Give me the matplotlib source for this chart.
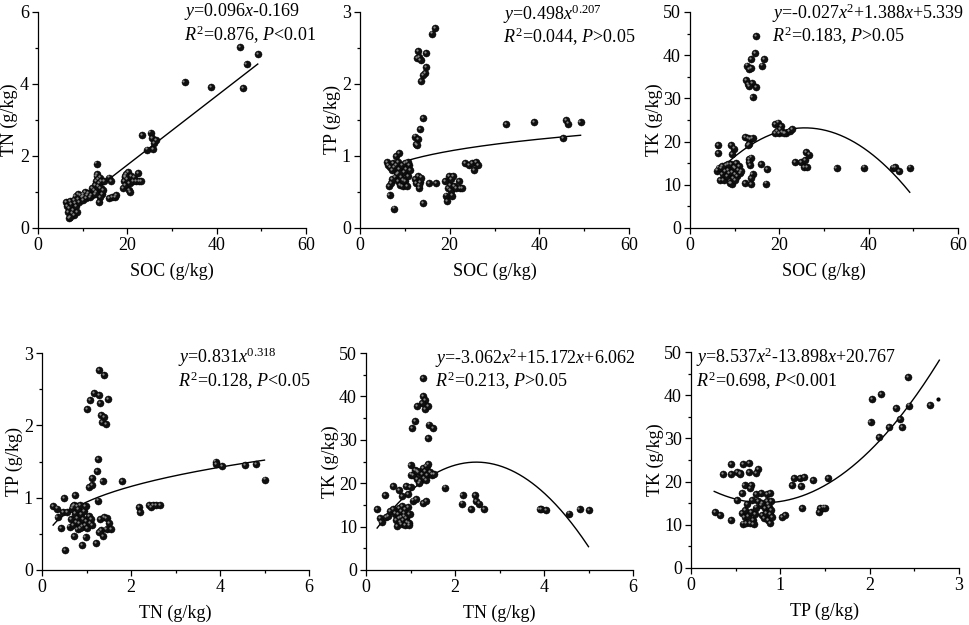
import numpy as np
import matplotlib
matplotlib.use("Agg")
import matplotlib.pyplot as plt
from matplotlib.ticker import MultipleLocator
from matplotlib.transforms import offset_copy

plt.rcParams['font.family'] = ['Liberation Serif', 'DejaVu Serif']
plt.rcParams['mathtext.fontset'] = 'custom'
plt.rcParams['mathtext.rm'] = 'Liberation Serif'
plt.rcParams['mathtext.it'] = 'Liberation Serif:italic'

# panel 1: SOC vs TN
soc_a = [6.3, 6.5, 6.8, 6.9, 7.0, 7.2, 7.5, 7.6, 7.8, 8.0, 8.2, 8.4, 8.5, 8.7, 9.0, 9.2, 9.5, 9.8,
         10.0, 10.2, 10.5, 10.8, 11.0, 11.3, 11.7, 12.0, 9.0, 10.0, 7.2, 8.0,
         12.2, 12.5, 12.7, 13.0, 13.1, 13.3, 13.5, 13.7, 13.0, 13.4, 13.8, 14.0, 14.2, 14.4, 13.8, 13.6,
         14.6, 14.8, 12.8, 13.1,
         16.0, 16.4, 15.9, 16.5, 17.3, 17.4,
         19.0, 19.2, 19.4, 19.6, 19.8, 20.0, 20.2, 20.4, 20.5, 20.6, 20.9, 21.2, 21.5, 22.0, 22.6, 22.4,
         23.0, 19.5,
         23.3, 24.5, 25.2, 25.6, 25.8, 26.0, 26.5, 32.8, 38.8, 45.3, 45.9, 46.7, 49.2]
tn_a = [0.72, 0.62, 0.45, 0.28, 0.55, 0.75, 0.65, 0.40, 0.50, 0.35, 0.70, 0.88, 0.60, 0.45, 0.80, 0.72,
        0.90, 0.85, 0.78, 0.95, 1.00, 0.82, 0.90, 0.98, 0.85, 0.92, 0.95, 0.88, 0.30, 0.78,
        1.10, 1.05, 1.20, 1.30, 1.45, 1.50, 1.35, 1.25, 1.00, 1.15, 1.40, 1.10, 1.30, 0.95, 0.85, 0.72,
        1.05, 1.30, 0.95, 1.79,
        1.40, 1.30, 0.82, 0.85, 0.85, 0.92,
        1.10, 1.30, 1.42, 1.20, 1.50, 1.35, 1.55, 1.05, 1.25, 1.00, 1.45, 1.30, 1.40, 1.30, 1.30, 1.52,
        1.30, 1.45,
        2.57, 2.18, 2.65, 2.50, 2.20, 2.35, 2.45, 4.06, 3.92, 5.02, 3.89, 4.56, 4.82]

# panel 2: SOC vs TP
soc_b = [16.7, 16.1, 12.9, 14.7, 12.8, 13.1, 13.5, 14.7, 14.5, 14.1, 13.6,
         14.0, 13.4, 12.2, 13.0, 12.6, 12.8,
         6.0, 6.3, 6.5, 6.6, 6.8, 7.0, 7.2, 7.3, 7.5, 7.6, 7.8, 8.0, 8.0, 8.2, 8.4, 8.5, 8.8, 8.8,
         9.0, 9.2, 9.4, 9.5, 9.8, 10.0, 10.0, 10.3, 10.5, 10.8, 11.0, 11.2, 9.6, 8.6, 10.6, 7.2,
         12.3, 12.6, 13.0, 13.2, 13.4, 13.6, 13.2, 14.0, 15.5, 17.0,
         19.0, 19.2, 19.5, 19.6, 19.8, 20.0, 20.2, 20.3, 20.5, 20.8, 21.0, 21.4, 22.0, 22.3, 22.8,
         23.5, 24.3, 25.0, 25.5, 25.8, 26.4,
         32.6, 38.8, 45.3, 45.9, 46.5, 49.2]
tp_b = [2.78, 2.70, 2.46, 2.43, 2.36, 2.37, 2.33, 2.24, 2.15, 2.12, 2.04,
        1.53, 1.38, 1.27, 1.24, 1.17, 1.15,
        0.91, 0.88, 0.58, 0.46, 0.85, 0.62, 0.80, 0.90, 0.85, 0.27, 0.70, 1.00, 0.88, 0.75, 0.65, 0.92,
        1.04, 0.82, 0.60, 0.70, 0.88, 0.58, 0.78, 0.65, 0.90, 0.82, 0.58, 0.72, 0.88, 0.80, 0.66, 0.76,
        0.92, 0.68,
        0.68, 0.62, 0.72, 0.55, 0.64, 0.70, 0.60, 0.35, 0.62, 0.62,
        0.65, 0.45, 0.37, 0.55, 0.72, 0.60, 0.52, 0.68, 0.45, 0.72, 0.58, 0.55, 0.65, 0.55, 0.56,
        0.90, 0.88, 0.90, 0.80, 0.91, 0.87,
        1.44, 1.47, 1.25, 1.50, 1.45, 1.47]

# panel 3: SOC vs TK
soc_c = [14.8, 14.6, 16.6, 13.6, 16.2, 12.8, 13.2, 13.6, 12.5, 13.0, 13.8, 14.8, 13.2, 14.0,
         19.0, 19.8, 20.3, 19.4, 19.9, 20.7, 21.4, 22.3, 22.9, 19.1, 20.2, 21.0,
         12.3, 12.9, 13.5, 14.0, 13.3, 13.0,
         6.3, 9.2, 9.8, 6.3, 9.5,
         6.0, 6.4, 6.7, 7.0, 7.3, 7.5, 7.8, 8.0, 8.2, 8.5, 8.8, 9.0, 9.2, 9.5, 9.6, 9.8, 10.0, 10.2,
         10.4, 10.6, 10.8, 11.0, 11.2, 9.3, 8.6, 10.0, 7.2, 11.5,
         13.2, 13.7, 13.3, 13.5, 16.0, 17.3, 14.0, 13.7, 12.3, 13.7, 17.0,
         23.5, 24.8, 25.8, 26.0, 26.6, 25.5, 26.2,
         32.8, 39.0, 45.5, 46.0, 46.8, 49.3]
tk_c = [44.4, 40.4, 39.2, 39.2, 37.6, 37.6, 36.8, 37.0, 34.2, 33.3, 33.5, 32.6, 32.8, 30.3,
        24.0, 24.4, 23.6, 22.4, 22.0, 22.3, 22.0, 22.5, 22.9, 22.0, 23.0, 21.9,
        21.0, 20.8, 20.5, 20.8, 19.4, 19.2,
        19.3, 19.3, 18.4, 17.3, 17.2,
        13.3, 14.0, 11.2, 13.8, 12.5, 11.0, 13.2, 14.5, 12.0, 13.5, 12.8, 10.5, 14.8, 13.0, 11.5, 14.2,
        12.5, 13.8, 15.0, 12.0, 13.5, 14.3, 12.8, 10.3, 14.8, 11.0, 14.3, 13.2,
        16.0, 16.3, 15.2, 14.6, 14.8, 13.7, 12.5, 11.6, 10.5, 10.2, 10.3,
        15.3, 15.3, 15.8, 17.5, 17.0, 14.2, 14.2,
        13.8, 14.0, 14.0, 14.1, 13.1, 14.0]

# panel 4: TN vs TP
tn_d = [1.29, 1.40, 1.16, 1.08, 1.28, 1.30, 1.49, 1.02, 1.32, 1.40, 1.34, 1.43,
        1.25, 1.23, 1.36, 1.80, 1.12, 1.05, 1.13, 1.25,
        0.25, 0.33, 0.35, 0.42, 0.48, 0.50, 0.52, 0.57, 0.62,
        0.66, 0.68, 0.70, 0.72, 0.74, 0.75, 0.76, 0.78, 0.80, 0.80, 0.82, 0.84, 0.86, 0.88, 0.90,
        0.92, 0.94, 0.96, 0.98, 1.00, 1.02, 1.05, 1.08, 1.10, 1.12, 0.73, 0.90, 0.98, 1.22, 0.70, 0.85,
        1.30, 1.40, 1.45, 1.50, 1.32, 1.38, 1.45, 1.55, 1.28,
        2.18, 2.20, 2.40, 2.45, 2.50, 2.56, 2.65,
        3.90, 3.92, 4.05, 4.57, 4.82, 5.02]
tp_d = [2.77, 2.69, 2.45, 2.35, 2.42, 2.31, 2.36, 2.22, 2.14, 2.12, 2.04, 2.02,
        1.53, 1.37, 1.23, 1.23, 1.27, 1.15, 1.17, 0.96,
        0.88, 0.85, 0.73, 0.58, 0.80, 1.00, 0.27, 0.80, 0.60,
        0.70, 0.85, 0.62, 0.90, 0.78, 1.04, 0.66, 0.88, 0.56, 0.72, 0.84, 0.65, 0.90, 0.77, 0.60,
        0.70, 0.82, 0.62, 0.88, 0.68, 0.58, 0.74, 0.65, 0.70, 0.62, 0.47, 0.34, 0.46, 0.37, 0.88, 0.58,
        0.70, 0.73, 0.72, 0.65, 0.55, 0.47, 0.57, 0.57, 0.53,
        0.87, 0.80, 0.90, 0.87, 0.90, 0.90, 0.90,
        1.50, 1.47, 1.44, 1.45, 1.47, 1.25]

# panel 5: TN vs TK
tn_e = [1.28, 1.29, 1.32, 1.25, 1.15, 1.32, 1.40, 1.03, 1.10, 1.42, 1.50, 1.40,
        1.00, 1.02, 1.06, 1.10, 1.15, 1.18, 1.22, 1.25, 1.28, 1.30, 1.33, 1.36, 1.38, 1.40, 1.44,
        1.48, 1.52, 1.20, 1.14, 1.34,
        1.78,
        0.25, 0.32, 0.35, 0.42, 0.45, 0.50, 0.55, 0.60, 0.60,
        0.66, 0.68, 0.70, 0.72, 0.74, 0.76, 0.78, 0.80, 0.80, 0.82, 0.84, 0.86, 0.88, 0.88, 0.90,
        0.92, 0.94, 0.96, 0.98, 0.97, 0.85, 0.75,
        0.75, 0.82, 0.90, 0.95, 1.00, 1.05, 1.12, 1.28, 1.35,
        2.17, 2.15, 2.37, 2.45, 2.48, 2.55, 2.65,
        3.90, 3.93, 4.05, 4.57, 4.80, 5.02]
tk_e = [44.2, 40.0, 39.2, 38.5, 37.7, 37.0, 37.7, 32.8, 34.3, 33.5, 32.8, 30.3,
        24.2, 22.0, 21.8, 23.0, 21.0, 22.5, 20.5, 22.2, 23.5, 21.2, 22.8, 24.0, 21.8, 24.4, 22.5,
        22.0, 22.2, 20.0, 22.8, 20.8,
        19.0,
        14.0, 12.0, 11.0, 17.2, 12.2, 12.5, 13.5, 19.3, 14.0,
        13.0, 11.5, 10.2, 12.8, 14.2, 11.0, 13.5, 10.5, 12.2, 14.8, 11.5, 13.0, 10.3, 14.0, 12.0,
        11.0, 14.5, 10.8, 12.8, 10.4, 12.5, 12.0,
        18.5, 17.0, 19.3, 17.5, 19.2, 16.0, 16.3, 15.5, 15.8,
        17.3, 15.3, 14.0, 17.2, 15.8, 15.3, 14.0,
        14.0, 14.1, 13.8, 13.0, 14.0, 13.9]

# panel 6: TP vs TK
tp_f = [2.43, 2.13, 2.03, 2.30, 2.44, 2.68, 2.01, 2.22, 2.34, 2.36, 2.11,
        1.15, 1.22, 1.27, 1.13, 1.23, 1.37, 1.53,
        1.24, 1.43, 1.44, 1.48, 1.50, 1.02, 1.05,
        0.27, 0.33, 0.45,
        0.45, 0.36, 0.45, 0.52, 0.55, 0.55, 0.58, 0.65, 0.65, 0.75, 0.73, 0.52, 0.57, 0.60, 0.67,
        0.66, 0.73, 0.78, 0.85, 0.88,
        0.57, 0.58, 0.60, 0.61, 0.62, 0.63, 0.64, 0.66, 0.67, 0.68, 0.69, 0.70, 0.72, 0.73, 0.75,
        0.78, 0.80, 0.80, 0.82, 0.83, 0.84, 0.85, 0.86, 0.87, 0.88, 0.88, 0.90, 0.90, 0.91, 0.86]
tk_f = [44.3, 40.2, 39.2, 37.0, 37.6, 37.8, 33.7, 32.7, 34.4, 32.7, 30.4,
        20.8, 20.8, 21.0, 19.3, 19.0, 20.3, 20.8,
        13.9, 13.0, 13.8, 14.0, 14.0, 11.7, 12.3,
        13.0, 12.3, 11.2,
        24.0, 21.8, 21.7, 22.3, 22.0, 21.7, 24.0, 24.3, 22.3, 23.0, 22.0, 15.7, 17.3, 19.3, 19.3,
        18.5, 17.1, 17.3, 17.1, 17.3,
        12.8, 10.3, 11.8, 13.5, 10.5, 14.8, 12.0, 10.4, 13.0, 15.8, 11.2, 10.1, 12.5, 14.0, 15.5,
        14.5, 12.3, 15.0, 11.5, 13.8, 12.8, 15.5, 11.0, 14.2, 10.4, 12.5, 13.5, 15.5, 11.8, 14.8]
tp_f_small = [2.77]
tk_f_small = [39.1]

# fitted curves (coefficients as drawn) and their x ranges
fit_a = [0.096, -0.169]
fit_b = [0.575, 0.207]          # power, y = a*x^b
fit_c = [-0.027, 1.388, 5.339]
fit_d = [0.939, 0.299]          # power
fit_e = [-3.062, 15.172, 6.062]
fit_f = [8.537, -13.898, 20.767]
range_a = [6.3, 49.2]
range_b = [10.7, 49.2]
range_c = [7.5, 49.2]
range_d = [0.25, 5.0]
range_e = [0.25, 5.0]
range_f = [0.26, 2.78]

eq_text = [
    ("$y$=0.096$x$-0.169", "$R^2$=0.876, $P$<0.01"),
    ("$y$=0.498$x^{0.207}$", "$R^2$=0.044, $P$>0.05"),
    ("$y$=-0.027$x^2$+1.388$x$+5.339", "$R^2$=0.183, $P$>0.05"),
    ("$y$=0.831$x^{0.318}$", "$R^2$=0.128, $P$<0.05"),
    ("$y$=-3.062$x^2$+15.172$x$+6.062", "$R^2$=0.213, $P$>0.05"),
    ("$y$=8.537$x^2$-13.898$x$+20.767", "$R^2$=0.698, $P$<0.001"),
]

W, H = 969, 625
fig = plt.figure(figsize=(W / 100, H / 100), dpi=100)


def make_ax(left, right, top, bottom):
    return fig.add_axes([left / W, 1 - bottom / H, (right - left) / W, (bottom - top) / H])


def draw_panel(ax, x, y, fx, fy, xlab, ylab, xlim, xstep, ylim, ystep, txt, tx, ty, ylab_off):
    # black balls with a small grey highlight
    ax.scatter(x, y, s=26, c='#101010', edgecolors='black', linewidths=0.3, zorder=3, clip_on=False)
    hl = offset_copy(ax.transData, fig=fig, x=-0.8, y=0.8, units='points')
    ax.scatter(x, y, s=2.5, c='#8a8a8a', linewidths=0, transform=hl, zorder=4, clip_on=False)
    ax.plot(fx, fy, color='black', lw=1.0, zorder=2)

    ax.set_xlim(xlim)
    ax.set_ylim(ylim)
    ax.xaxis.set_major_locator(MultipleLocator(xstep))
    ax.xaxis.set_minor_locator(MultipleLocator(xstep / 2))
    ax.yaxis.set_major_locator(MultipleLocator(ystep))
    ax.yaxis.set_minor_locator(MultipleLocator(ystep / 2))
    for s in ['top', 'right']:
        ax.spines[s].set_visible(False)
    for s in ['left', 'bottom']:
        ax.spines[s].set_linewidth(0.9)
    ax.tick_params(which='major', direction='out', length=4, width=0.9, labelsize=13, pad=2.5)
    ax.tick_params(which='minor', direction='out', length=2.2, width=0.9)

    ax.set_xlabel(xlab, fontsize=13)
    ax.set_ylabel(ylab, fontsize=13)
    bbox = ax.get_position()
    hpx = bbox.height * H
    wpx = bbox.width * W
    ax.xaxis.set_label_coords(0.5, -43 / hpx)
    ax.xaxis.label.set_va('center')
    ax.yaxis.set_label_coords(-ylab_off / wpx, 0.5)
    ax.yaxis.label.set_va('center')

    ax.text(tx, ty[0], txt[0], transform=ax.transAxes, fontsize=13, ha='left', va='center')
    ax.text(tx, ty[1], txt[1], transform=ax.transAxes, fontsize=13, ha='left', va='center')


def lin_x(r):
    return np.linspace(r[0], r[1], 200)


# panel 1
ax1 = make_ax(38, 306, 12, 228)
xx = lin_x(range_a)
draw_panel(ax1, soc_a, tn_a, xx, np.polyval(fit_a, xx), 'SOC (g/kg)', 'TN (g/kg)',
           (0, 60), 20, (0, 6), 2, eq_text[0], 0.545, (1.0, 0.894), 29)

# panel 2
ax2 = make_ax(360, 629, 12, 228)
xx = lin_x(range_b)
draw_panel(ax2, soc_b, tp_b, xx, fit_b[0] * xx ** fit_b[1], 'SOC (g/kg)', 'TP (g/kg)',
           (0, 60), 20, (0, 3), 1, eq_text[1], 0.532, (0.99, 0.884), 28)

# panel 3
ax3 = make_ax(690, 958, 12, 228)
xx = lin_x(range_c)
draw_panel(ax3, soc_c, tk_c, xx, np.polyval(fit_c, xx), 'SOC (g/kg)', 'TK (g/kg)',
           (0, 60), 20, (0, 50), 10, eq_text[2], 0.305, (0.995, 0.889), 36)

# panel 4
ax4 = make_ax(42, 309, 353, 570)
xx = lin_x(range_d)
draw_panel(ax4, tn_d, tp_d, xx, fit_d[0] * xx ** fit_d[1], 'TN (g/kg)', 'TP (g/kg)',
           (0, 6), 2, (0, 3), 1, eq_text[3], 0.509, (0.98, 0.871), 28)

# panel 5
ax5 = make_ax(366, 633, 353, 570)
xx = lin_x(range_e)
draw_panel(ax5, tn_e, tk_e, xx, np.polyval(fit_e, xx), 'TN (g/kg)', 'TK (g/kg)',
           (0, 6), 2, (0, 50), 10, eq_text[4], 0.258, (0.977, 0.871), 36)

# panel 6
ax6 = make_ax(691, 959, 352, 568)
xx = lin_x(range_f)
draw_panel(ax6, tp_f, tk_f, xx, np.polyval(fit_f, xx), 'TP (g/kg)', 'TK (g/kg)',
           (0, 3), 1, (0, 50), 10, eq_text[5], 0.019, (0.977, 0.866), 36)
ax6.scatter(tp_f_small, tk_f_small, s=4, c='black', zorder=3)

fig.savefig('out.png', dpi=100)
